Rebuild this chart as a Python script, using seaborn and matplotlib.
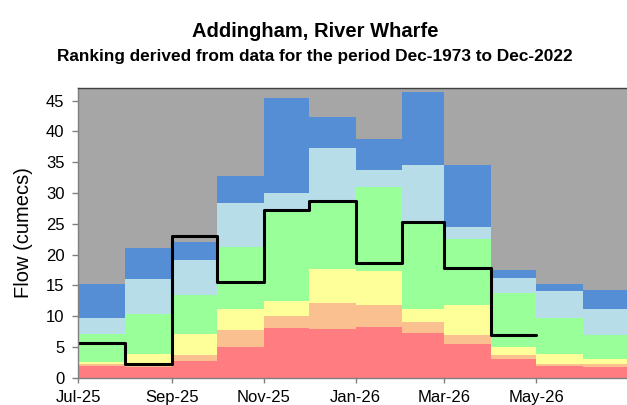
import datetime as dt
import numpy as np
import pandas as pd
import matplotlib
matplotlib.use('Agg')
import matplotlib.pyplot as plt
import matplotlib.dates as mdates
import seaborn as sns

# month starts Jul-25 .. Jun-26 (band values apply to each whole month)
months = pd.date_range('2025-07-01', '2026-07-01', freq='MS')

# cumulative tops of each ranking band (cumecs)
band_red = [1.9, 1.8, 2.75, 5.0, 8.0, 7.9, 8.3, 7.3, 5.5, 3.0, 1.9, 1.8]
band_orange = [2.15, 2.1, 3.7, 7.8, 10.0, 12.1, 11.8, 9.1, 6.9, 3.7, 2.3, 2.2]
band_yellow = [2.6, 3.9, 7.1, 11.1, 12.5, 17.6, 17.4, 11.2, 11.8, 5.0, 3.8, 3.1]
band_green = [7.1, 10.4, 13.4, 21.2, 27.0, 28.4, 30.9, 25.2, 22.5, 13.7, 9.7, 6.9]
band_lightblue = [9.7, 16.0, 19.1, 28.4, 30.0, 37.3, 33.8, 34.6, 24.5, 16.2, 14.1, 11.2]
band_blue = [15.2, 21.1, 22.0, 32.8, 45.4, 42.4, 38.8, 46.4, 34.5, 17.5, 15.2, 14.2]

# observed monthly mean flow Jul-25 .. Apr-26
flow = [5.7, 2.3, 23.0, 15.6, 27.3, 28.7, 18.6, 25.3, 17.8, 6.9]

tick_labels = ['Jul-25', 'Sep-25', 'Nov-25', 'Jan-26', 'Mar-26', 'May-26']

colors = ['#ff7c80', '#fac090', '#ffff99', '#99ff99', '#b7dde8', '#558ed5']
bands = [band_red, band_orange, band_yellow, band_green, band_lightblue, band_blue]

sns.set_theme(style='white')
plt.rcParams['font.family'] = ['Liberation Sans', 'DejaVu Sans']
plt.rcParams['text.color'] = 'black'

fig = plt.figure(figsize=(6.27, 4.05), dpi=100)
ax = fig.add_axes([0.125, 0.0674, 0.877, 0.7146])
ax.set_facecolor('#a6a6a6')

edges = mdates.date2num(months.to_pydatetime())
lower = np.zeros(len(band_red))
for top, col in zip(bands, colors):
    ax.stairs(top, edges, baseline=lower, fill=True, color=col, linewidth=0)
    lower = np.array(top)

# observed flow as a step line, closed at the start of the following month
flow_df = pd.DataFrame({'date': months[:len(flow) + 1],
                        'flow': flow + [flow[-1]]})
sns.lineplot(data=flow_df, x='date', y='flow', ax=ax, color='black',
             linewidth=2.2, drawstyle='steps-post')

ax.set_xlim(edges[0], edges[-1])
ax.set_ylim(0, 47)
ax.set_yticks(range(0, 50, 5))
ax.set_xticks(mdates.date2num([dt.datetime(2025 + (6 + 2 * i) // 12, (6 + 2 * i) % 12 + 1, 1)
                               for i in range(len(tick_labels))]))
ax.set_xticklabels(tick_labels)
ax.set_xlabel('')
ax.set_ylabel('')
ax.tick_params(axis='both', which='both', direction='out', width=1,
               color='#808080', labelsize=12, labelcolor='black')
ax.tick_params(axis='x', length=3.6, pad=5.5)
ax.tick_params(axis='y', length=4.5, pad=5.5)
ax.yaxis.set_ticks_position('left')
ax.xaxis.set_ticks_position('bottom')

for side in ['left', 'bottom']:
    ax.spines[side].set_color('#808080')
    ax.spines[side].set_linewidth(1)
ax.spines['top'].set_color('#404040')
ax.spines['top'].set_linewidth(1)
ax.spines['right'].set_visible(False)

fig.text(0.0375, 0.4247, 'Flow (cumecs)', rotation=90, ha='center', va='center',
         fontsize=14.5, color='black')
fig.text(0.502, 0.923, 'Addingham, River Wharfe', ha='center', va='center',
         fontsize=14.5, fontweight='bold', color='black')
fig.text(0.502, 0.86, 'Ranking derived from data for the period Dec-1973 to Dec-2022',
         ha='center', va='center', fontsize=12.4, fontweight='bold', color='black')

fig.savefig('out.png', dpi=100)
